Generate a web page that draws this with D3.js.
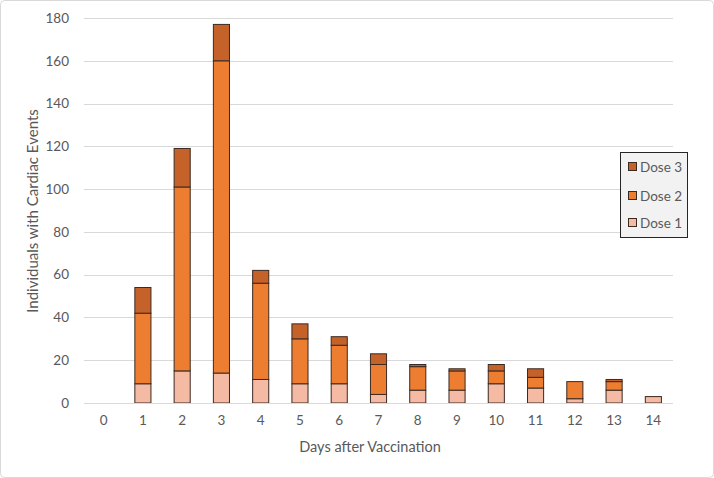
<!DOCTYPE html>
<html><head><meta charset="utf-8">
<script src="https://cdn.jsdelivr.net/npm/d3@7"></script>
<style>body{margin:0;background:#fff}svg{display:block}text{font-family:Lato,"Open Sans",sans-serif}</style>
</head><body><svg id="c" width="714" height="478"></svg>
<script>
const days = ["0","1","2","3","4","5","6","7","8","9","10","11","12","13","14"];
const dose1 = [0,9,15,14,11,9,9,4,6,6,9,7,2,6,3];
const dose2 = [0,33,86,146,45,21,18,14,11,9,6,5,8,4,0];
const dose3 = [0,12,18,17,6,7,4,5,1,1,3,4,0,1,0];
const yTicks = [0,20,40,60,80,100,120,140,160,180];
const seriesNames = ["Dose 1","Dose 2","Dose 3"];
const colors = ["#F4BAA3","#ED7D31","#C5622A"];

(function(){
const rows = days.map((d,i)=>({day:d,"Dose 1":dose1[i],"Dose 2":dose2[i],"Dose 3":dose3[i]}));
const svg = d3.select("#c");
svg.append("rect").attr("x",0.5).attr("y",0.5).attr("width",713).attr("height",477)
  .attr("rx",4).attr("fill","#fff").attr("stroke","#d9d9d9");

const pl=84,pr=673,pt=18,pb=403;
const x = d3.scaleBand().domain(days).range([pl,pr]).paddingInner(0.59).paddingOuter(0.295);
const y = d3.scaleLinear().domain([0,180]).range([pb,pt]);

svg.append("g").selectAll("line").data(yTicks.filter(t=>t>0)).join("line")
  .attr("x1",pl).attr("x2",pr).attr("y1",d=>Math.round(y(d))+0.5).attr("y2",d=>Math.round(y(d))+0.5)
  .attr("stroke","#d9d9d9").attr("stroke-width",1);

const ya = svg.append("g").attr("transform",`translate(${pl},0)`)
  .call(d3.axisLeft(y).tickValues(yTicks).tickSize(0).tickPadding(15));
ya.select(".domain").remove();
ya.selectAll("text").attr("fill","#595959").style("font-size","13.5px").style("font-family","Lato,'Open Sans',sans-serif");

const stack = d3.stack().keys(seriesNames)(rows);
svg.append("g").selectAll("g").data(stack).join("g").attr("fill",(d,i)=>colors[i])
  .selectAll("rect").data(d=>d.filter(p=>p[1]-p[0]>0)).join("rect")
  .attr("x",d=>x(d.data.day)).attr("width",x.bandwidth())
  .attr("y",d=>y(d[1])).attr("height",d=>y(d[0])-y(d[1]))
  .attr("stroke","#3b2a22").attr("stroke-width",1);

const xa = svg.append("g").attr("transform",`translate(0,${pb})`)
  .call(d3.axisBottom(x).tickSize(0).tickPadding(12));
xa.select(".domain").attr("stroke","#d9d9d9").attr("d",`M${pl},0.5H${pr}`);
xa.selectAll("text").attr("fill","#595959").style("font-size","13.5px").style("font-family","Lato,'Open Sans',sans-serif");

svg.append("text").attr("x",370).attr("y",452).attr("text-anchor","middle")
  .attr("fill","#595959").style("font-size","14.5px").text("Days after Vaccination");
svg.append("text").attr("transform",`translate(38,211) rotate(-90)`).attr("text-anchor","middle")
  .attr("fill","#595959").style("font-size","15px").text("Individuals with Cardiac Events");

const lg = svg.append("g");
lg.append("rect").attr("x",620.5).attr("y",152.5).attr("width",67).attr("height",85)
  .attr("fill","#f2f2f2").attr("stroke","#262626").attr("stroke-width",1);
const legendOrder = [2,1,0];
const ly = [167,196,223];
legendOrder.forEach((si,k)=>{
  lg.append("rect").attr("x",628.5).attr("y",ly[k]-4.5).attr("width",8).attr("height",8)
    .attr("fill",colors[si]).attr("stroke","#3b2a22");
  lg.append("text").attr("x",640).attr("y",ly[k]).attr("dy","0.35em")
    .attr("fill","#595959").style("font-size","13.5px").text(seriesNames[si]);
});
})();
</script></body></html>
